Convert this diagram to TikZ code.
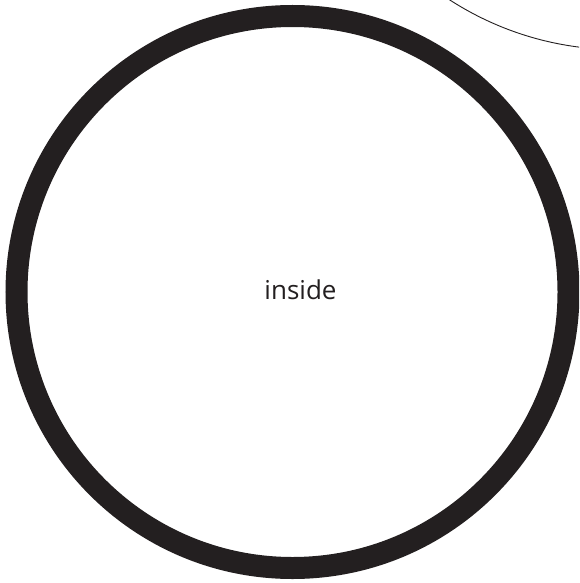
\documentclass[tikz,border=0pt]{standalone}
\usepackage{fontspec}
\setmainfont{Open Sans}
\definecolor{ink}{HTML}{231F20}
\begin{document}
\begin{tikzpicture}[x=1pt,y=-1pt]
\useasboundingbox (0,0) rectangle (579,583);
\clip (0,0) rectangle (579,583);
\draw[ink, line width=0.9pt] (618.6,-262) circle[radius=311.6];
\draw[ink, line width=22pt] (292.5,292) circle[radius=276];
\node[anchor=base, inner sep=0pt, text=ink, font=\fontsize{26}{30}\selectfont] (label) at (300.5,299) {inside};
\end{tikzpicture}
\end{document}
